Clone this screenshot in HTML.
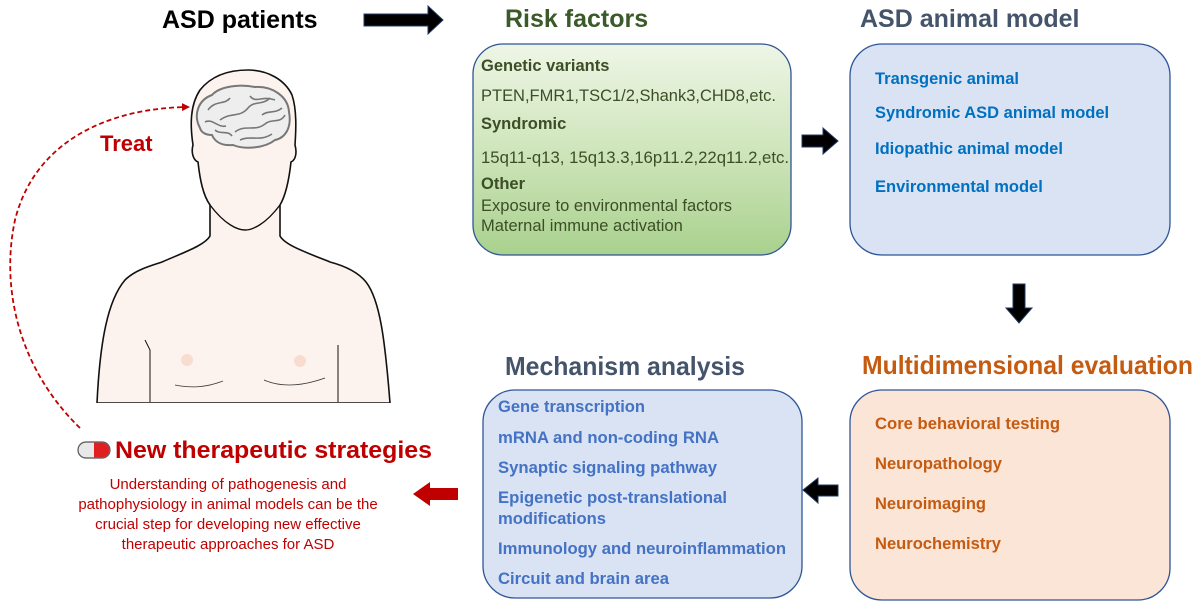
<!DOCTYPE html>
<html><head><meta charset="utf-8"><style>
html,body{margin:0;padding:0;background:#fff;}
svg{display:block;font-family:"Liberation Sans",Arial,sans-serif;}
</style></head><body>
<svg width="1200" height="611" viewBox="0 0 1200 611" xmlns="http://www.w3.org/2000/svg">
<defs>
<linearGradient id="gg" x1="0" y1="0" x2="0" y2="1">
<stop offset="0" stop-color="#eef6e6"/><stop offset="0.5" stop-color="#cfe5bc"/><stop offset="1" stop-color="#a9d18e"/>
</linearGradient>
<marker id="ra" markerWidth="8" markerHeight="8" refX="6" refY="4" orient="auto" markerUnits="userSpaceOnUse"><path d="M0,0 L8,4 L0,8 z" fill="#c00000"/></marker>
</defs>

<!-- Person -->
<path d="M97,403 C100,340 108,300 125,280 C135,270 150,266 162,262 C185,252 205,245 210,236 L210,205 C203,195 200,180 198,162 C193,160 191,152 193,145 C190,125 190,105 200,90 C212,75 230,70 248,70 C268,70 285,80 292,95 C297,110 296,130 295,145 C297,152 296,160 291,162 C289,180 286,195 280,205 L280,236 C285,245 305,252 330,262 C345,266 358,272 366,282 C380,300 385,340 390,403 Z" fill="#fdf3ee" stroke="#111" stroke-width="1.6"/>
<path d="M210,205 C225,225 238,230 245,230 C252,230 265,225 280,205" fill="none" stroke="#111" stroke-width="1.4"/>
<path d="M145,340 L150,350 L150,402" fill="none" stroke="#111" stroke-width="1"/>
<path d="M338,345 L338,402" fill="none" stroke="#111" stroke-width="1"/>
<path d="M175,385 C190,388 205,388 223,381 M264,380 C280,387 300,387 325,378" fill="none" stroke="#333" stroke-width="0.8"/>
<circle cx="187" cy="360" r="6" fill="#f8dcd0"/>
<circle cx="300" cy="361" r="6" fill="#f8dcd0"/>
<rect x="86" y="403" width="310" height="2" fill="#fff"/>
<!-- Brain -->
<path d="M200,128 C193,115 198,100 212,95 C220,86 240,84 255,87 C272,86 288,96 289,112 C292,128 285,138 275,140 C265,148 245,150 233,145 C222,146 215,142 212,135 C205,135 201,132 200,128 Z" fill="#eee" stroke="#777" stroke-width="2"/>
<path d="M208,110 C215,100 225,105 230,98 M220,120 C230,112 240,118 248,108 C255,100 262,106 270,98 M205,122 C212,118 218,128 226,126 M235,132 C245,124 255,132 265,124 C272,118 280,124 285,115 M240,140 C250,135 260,142 272,134 M250,96 C256,104 262,95 275,100 M215,130 C220,135 228,130 232,136 M262,115 C268,110 275,114 282,108" fill="none" stroke="#777" stroke-width="1.6"/>

<!-- Dashed treat arrow -->
<path d="M80,428 C20,370 0,290 15,220 C35,140 110,108 188,107" fill="none" stroke="#c00000" stroke-width="1.8" stroke-dasharray="5,3" marker-end="url(#ra)"/>
<text x="100" y="151" font-size="22" font-weight="bold" fill="#c00000">Treat</text>

<!-- ASD patients -->
<text x="162" y="28" font-size="25" font-weight="bold" fill="#000">ASD patients</text>
<path d="M364,14 L428,14 L428,6 L443,20 L428,34 L428,26 L364,26 Z" fill="#000" stroke="#1f3864" stroke-width="1"/>

<!-- Risk factors -->
<text x="505" y="27" font-size="25" font-weight="bold" fill="#3a5a2a">Risk factors</text>
<rect x="473" y="44" width="318" height="211" rx="30" fill="url(#gg)" stroke="#2f5597" stroke-width="1.3"/>
<g fill="#3b4e25">
<text x="481" y="71" font-size="16.5" font-weight="bold">Genetic variants</text>
<text x="481" y="101" font-size="16.5" textLength="295" lengthAdjust="spacingAndGlyphs">PTEN,FMR1,TSC1/2,Shank3,CHD8,etc.</text>
<text x="481" y="129" font-size="16.5" font-weight="bold">Syndromic</text>
<text x="481" y="163" font-size="16.5" textLength="308" lengthAdjust="spacingAndGlyphs">15q11-q13, 15q13.3,16p11.2,22q11.2,etc.</text>
<text x="481" y="189" font-size="16.5" font-weight="bold">Other</text>
<text x="481" y="211" font-size="16.5" textLength="251" lengthAdjust="spacingAndGlyphs">Exposure to environmental factors</text>
<text x="481" y="231" font-size="16.5">Maternal immune activation</text>
</g>
<path d="M802,135 L823,135 L823,128 L838,141 L823,154 L823,147 L802,147 Z" fill="#000" stroke="#1f3864"/>

<!-- ASD animal model -->
<text x="860" y="27" font-size="25" font-weight="bold" fill="#44546a">ASD animal model</text>
<rect x="850" y="44" width="320" height="211" rx="32" fill="#dae3f3" stroke="#2f5597" stroke-width="1.3"/>
<g fill="#0070c0" font-size="16.5" font-weight="bold">
<text x="875" y="84">Transgenic animal</text>
<text x="875" y="118">Syndromic ASD animal model</text>
<text x="875" y="154">Idiopathic animal model</text>
<text x="875" y="192">Environmental model</text>
</g>
<path d="M1013,284 L1025,284 L1025,308 L1032,308 L1019,323 L1006,308 L1013,308 Z" fill="#000" stroke="#1f3864"/>

<!-- Multidimensional evaluation -->
<text x="862" y="374" font-size="26" font-weight="bold" fill="#c55a11" textLength="331" lengthAdjust="spacingAndGlyphs">Multidimensional evaluation</text>
<rect x="850" y="390" width="320" height="210" rx="32" fill="#fbe5d6" stroke="#2f5597" stroke-width="1.3"/>
<g fill="#c55a11" font-size="16.5" font-weight="bold">
<text x="875" y="429" textLength="185" lengthAdjust="spacingAndGlyphs">Core behavioral testing</text>
<text x="875" y="469" textLength="127" lengthAdjust="spacingAndGlyphs">Neuropathology</text>
<text x="875" y="509" textLength="111" lengthAdjust="spacingAndGlyphs">Neuroimaging</text>
<text x="875" y="549" textLength="126" lengthAdjust="spacingAndGlyphs">Neurochemistry</text>
</g>
<path d="M838,485 L818,485 L818,478 L803,490 L818,503 L818,496 L838,496 Z" fill="#000" stroke="#1f3864"/>

<!-- Mechanism analysis -->
<text x="505" y="375" font-size="26" font-weight="bold" fill="#44546a" textLength="240" lengthAdjust="spacingAndGlyphs">Mechanism analysis</text>
<rect x="483" y="390" width="319" height="208" rx="32" fill="#dae3f3" stroke="#2f5597" stroke-width="1.3"/>
<g fill="#4472c4" font-size="16.5" font-weight="bold">
<text x="498" y="412" textLength="147" lengthAdjust="spacingAndGlyphs">Gene transcription</text>
<text x="498" y="443" textLength="221" lengthAdjust="spacingAndGlyphs">mRNA and non-coding RNA</text>
<text x="498" y="473" textLength="219" lengthAdjust="spacingAndGlyphs">Synaptic signaling pathway</text>
<text x="498" y="503" textLength="229" lengthAdjust="spacingAndGlyphs">Epigenetic post-translational</text>
<text x="498" y="524" textLength="108" lengthAdjust="spacingAndGlyphs">modifications</text>
<text x="498" y="554" textLength="288" lengthAdjust="spacingAndGlyphs">Immunology and neuroinflammation</text>
<text x="498" y="584" textLength="171" lengthAdjust="spacingAndGlyphs">Circuit and brain area</text>
</g>
<path d="M458,488 L430,488 L430,482 L413,494 L430,506 L430,500 L458,500 Z" fill="#c00000"/>

<!-- New therapeutic strategies -->
<g>
<rect x="78" y="442" width="32" height="16" rx="8" fill="#e8e8e8" stroke="#555" stroke-width="1.2"/>
<path d="M94,442.6 L102,442.6 A7.4,7.4 0 0 1 102,457.4 L94,457.4 Z" fill="#e02020"/>
</g>
<text x="115" y="458" font-size="24" font-weight="bold" fill="#c00000" textLength="317" lengthAdjust="spacingAndGlyphs">New therapeutic strategies</text>
<g fill="#c00000" font-size="15" text-anchor="middle">
<text x="228" y="489">Understanding of pathogenesis and</text>
<text x="228" y="509">pathophysiology in animal models can be the</text>
<text x="228" y="529">crucial step for developing new effective</text>
<text x="228" y="549">therapeutic approaches for ASD</text>
</g>
</svg>
</body></html>
